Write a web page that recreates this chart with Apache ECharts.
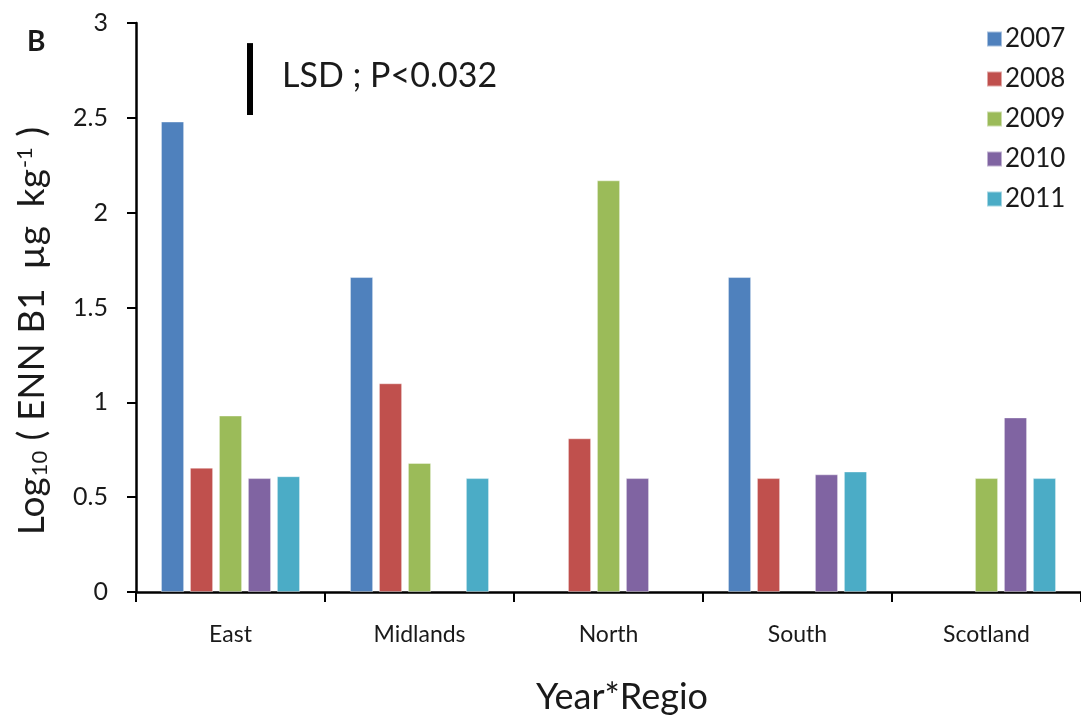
<!DOCTYPE html>
<html><head><meta charset="utf-8">
<script src="https://cdn.jsdelivr.net/npm/echarts@6/dist/echarts.min.js"></script>
<style>html,body{margin:0;padding:0;background:#fff}#c{width:1081px;height:720px}</style>
</head><body><div id="c"></div>
<script>
const regions = ['East', 'Midlands', 'North', 'South', 'Scotland'];
const years = ['2007', '2008', '2009', '2010', '2011'];
const v2007 = [2.48, 1.66, null, 1.66, null];
const v2008 = [0.655, 1.10, 0.81, 0.60, null];
const v2009 = [0.93, 0.68, 2.17, null, 0.60];
const v2010 = [0.60, null, 0.60, 0.62, 0.92];
const v2011 = [0.61, 0.60, null, 0.635, 0.60];
const yTicks = [0, 0.5, 1, 1.5, 2, 2.5, 3];
const lsdRange = [2.515, 2.894];   // LSD bar spans this y range
const colors = ['#4F81BD', '#C0504D', '#9BBB59', '#8064A2', '#4BACC6'];
const FONT = 'Lato';
const TXT = '#1a1a1a';

const chart = echarts.init(document.getElementById('c'), null, {renderer: 'canvas'});
const seriesVals = [v2007, v2008, v2009, v2010, v2011];
const series = years.map((y, i) => ({
  name: y, type: 'bar', data: seriesVals[i],
  barWidth: 23, barGap: '26%',
  itemStyle: {color: colors[i], borderColor: 'rgba(255,255,255,0.5)', borderWidth: 0.8},
  emphasis: {disabled: true}
}));

chart.setOption({
  animation: false,
  textStyle: {fontFamily: FONT},
  grid: {left: 136, top: 23, width: 952, height: 569, containLabel: false},
  legend: {
    orient: 'vertical', left: 981, top: 21, itemWidth: 15, itemHeight: 15, itemGap: 14,
    icon: 'rect', data: years,
    textStyle: {fontFamily: FONT, fontSize: 26, color: TXT, lineHeight: 26, padding: [0,0,0,-2]},
    selectedMode: false
  },
  xAxis: {
    type: 'category', data: regions,
    axisLine: {lineStyle: {color: '#000', width: 2.5}},
    axisTick: {show: true, length: 10, lineStyle: {color: '#000', width: 2}},
    axisLabel: {fontFamily: FONT, fontSize: 23, color: TXT, margin: 31}
  },
  yAxis: {
    type: 'value', min: yTicks[0], max: yTicks[yTicks.length-1], interval: 0.5,
    splitLine: {show: false},
    axisLine: {show: true, lineStyle: {color: '#000', width: 2.5}},
    axisTick: {show: true, length: 9, inside: false, lineStyle: {color: '#000', width: 2}},
    axisLabel: {fontFamily: FONT, fontSize: 25, color: TXT, margin: 28,
      formatter: v => String(v)}
  },
  series: series
});

const yTop = chart.convertToPixel({yAxisIndex: 0}, lsdRange[1]);
const yBot = chart.convertToPixel({yAxisIndex: 0}, lsdRange[0]);
chart.setOption({
  graphic: [
    {type: 'rect', shape: {x: 247, y: yTop, width: 6, height: yBot - yTop}, style: {fill: '#000'}},
    {type: 'text', x: 282, y: 76, style: {text: 'LSD ; P<0.032', font: '34px ' + FONT, fill: TXT, verticalAlign: 'middle'}},
    {type: 'text', x: 27, y: 42, style: {text: 'B', font: 'bold 28px ' + FONT, fill: TXT, verticalAlign: 'middle'}},
    {type: 'text', x: 622, y: 697, style: {text: 'Year*Regio', font: '36px ' + FONT, fill: TXT, align: 'center', verticalAlign: 'middle'}},
    {type: 'text', x: 32, y: 331, rotation: Math.PI / 2,
      style: {
        text: '{m|Log}{s|10}{m| ( ENN B1  µg  kg}{u|-1}{m| )}',
        align: 'center', verticalAlign: 'middle',
        rich: {
          m: {fontFamily: FONT, fontSize: 37, fill: TXT, color: TXT},
          s: {fontFamily: FONT, fontSize: 22, fill: TXT, color: TXT, verticalAlign: 'bottom', padding: [15,1,0,1]},
          u: {fontFamily: FONT, fontSize: 22, fill: TXT, color: TXT, verticalAlign: 'top', padding: [0,1,13,1]}
        }
      }
    }
  ]
});
</script></body></html>
